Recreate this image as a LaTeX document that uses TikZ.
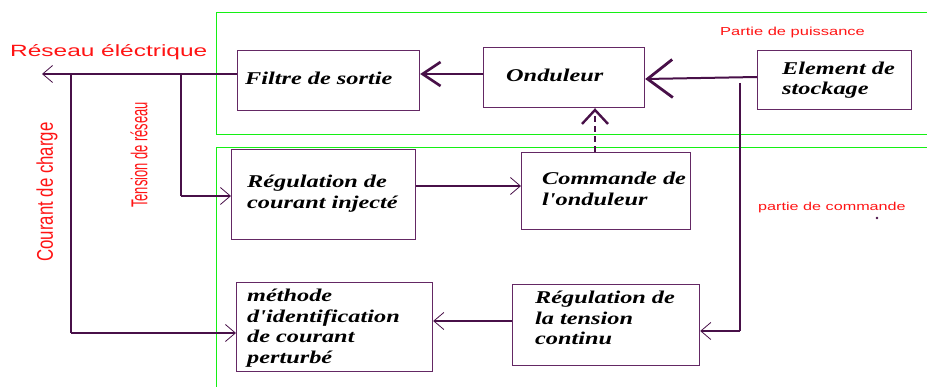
\documentclass[tikz,border=0pt]{standalone}
\usepackage{fontspec}
\usepackage{graphicx}
\usetikzlibrary{arrows.meta,calc}
\newfontfamily\boxfont{Liberation Serif}[FakeStretch=1.35]
\newfontfamily\redwide{Liberation Sans}[FakeStretch=1.42]
\newfontfamily\redwider{Liberation Sans}[FakeStretch=1.5]
\newfontfamily\redsans{Liberation Sans}
\newfontfamily\rednarrow{Liberation Sans}[FakeStretch=0.76]
\definecolor{linec}{RGB}{72,16,72}
\definecolor{boxc}{RGB}{100,40,100}
\definecolor{grn}{RGB}{20,240,20}
\definecolor{redt}{RGB}{255,20,20}
\begin{document}
\begin{tikzpicture}[x=1pt,y=-1pt,
  blk/.style={draw=boxc,line width=1.2pt,anchor=north west,inner sep=0pt},
  txt/.style={anchor=west,align=left,inner sep=0pt,font=\boxfont\bfseries\itshape\fontsize{18}{20.5}\selectfont},
  wire/.style={draw=linec,line width=2pt},
  thinarr/.style={-{Straight Barb[length=10pt,width=17pt,line width=0.8pt]}},
  bigarr/.style={-{Straight Barb[length=18pt,width=24pt,line width=2.6pt]}},
  hugearr/.style={-{Straight Barb[length=25pt,width=38pt,line width=2.8pt]}},
  redlab/.style={text=redt,inner sep=0pt}]
\useasboundingbox (0,0) rectangle (927,387);
% green frames
\draw[grn,line width=1pt] (927,12.5) -- (216.5,12.5) -- (216.5,135) -- (927,135);
\draw[grn,line width=1pt] (927,147.5) -- (216.5,147.5) -- (216.5,387);
% boxes
\node[blk,minimum width=182pt,minimum height=60pt] (filtre) at (237,50) {};
\node[blk,minimum width=161pt,minimum height=60pt] (ond) at (483,47) {};
\node[blk,minimum width=154pt,minimum height=59pt] (elem) at (757,50) {};
\node[blk,minimum width=184pt,minimum height=90pt] (regc) at (231,149) {};
\node[blk,minimum width=169pt,minimum height=77pt] (cmd) at (521,152) {};
\node[blk,minimum width=196pt,minimum height=89pt] (meth) at (236,282) {};
\node[blk,minimum width=187pt,minimum height=81pt] (regt) at (512,284) {};
% texts
\node[txt] (filtreT) at ($(filtre.west)+(8,-2)$) {Filtre de sortie};
\node[txt] (ondT) at ($(ond.west)+(23,-2)$) {Onduleur};
\node[txt] (elemT) at ($(elem.west)+(25,0)$) {Element de\\stockage};
\node[txt] (regcT) at ($(regc.west)+(16,-1)$) {Régulation de\\courant injecté};
\node[txt] (cmdT) at ($(cmd.west)+(21,-2)$) {Commande de\\l'onduleur};
\node[txt] (methT) at ($(meth.west)+(11,1)$) {méthode\\d'identification\\de courant\\perturbé};
\node[txt] (regtT) at ($(regt.west)+(23,-7)$) {Régulation de\\la tension\\continu};
% coordinates
\coordinate (res) at (42,74);
\coordinate (jC) at (71,74);
\coordinate (jT) at (181,74);
\coordinate (cC) at (71,333);
\coordinate (cT) at (181,196);
\coordinate (v1) at (740,83);
\coordinate (v2) at (740,331);
% connectors
\draw[wire,thinarr] (filtre.west |- res) -- (res);
\draw[wire,bigarr] (ond.west |- res) -- (filtre.east |- res);
\draw[wire,hugearr] (elem.west |- 0,77) -- (ond.east |- 0,79);
\draw[wire] (jC) -- (cC);
\draw[wire,thinarr] (cC) -- (meth.west |- cC);
\draw[wire] (jT) -- (cT);
\draw[wire,thinarr] (cT) -- (regc.west |- cT);
\draw[wire,thinarr] (regc.east |- 0,186) -- (cmd.west |- 0,186);
\draw[wire,line width=2.2pt,dash pattern=on 6pt off 4pt,-{Straight Barb[length=14pt,width=26pt,line width=2.4pt]}] (cmd.north -| 595,0) -- (ond.south -| 595,0);
\draw[wire,line width=2.4pt] (v1) -- (v2);
\draw[wire,thinarr] (v2) -- (regt.east |- v2);
\draw[wire,thinarr] (regt.west |- 0,321) -- (meth.east |- 0,321);
% labels
\node[redlab,anchor=west] (lres) at (10,52) {\redwider\fontsize{16.3}{18}\selectfont Réseau éléctrique};
\node[redlab,anchor=west] (lpuis) at (720,33) {\redwide\fontsize{11.6}{13}\selectfont Partie de puissance};
\node[redlab,anchor=west] (lcom) at (758,208) {\redwide\fontsize{11.4}{13}\selectfont partie de commande};
\node[redlab,rotate=90] (lcour) at (47,192) {\scalebox{1}[1.35]{\redsans\fontsize{16.8}{18}\selectfont Courant de charge}};
\node[redlab,rotate=90] (ltens) at (139,155) {\scalebox{1}[1.35]{\rednarrow\fontsize{17}{18}\selectfont Tension de réseau}};
\fill[linec] (877,218) circle (1.3pt);
\end{tikzpicture}
\end{document}
